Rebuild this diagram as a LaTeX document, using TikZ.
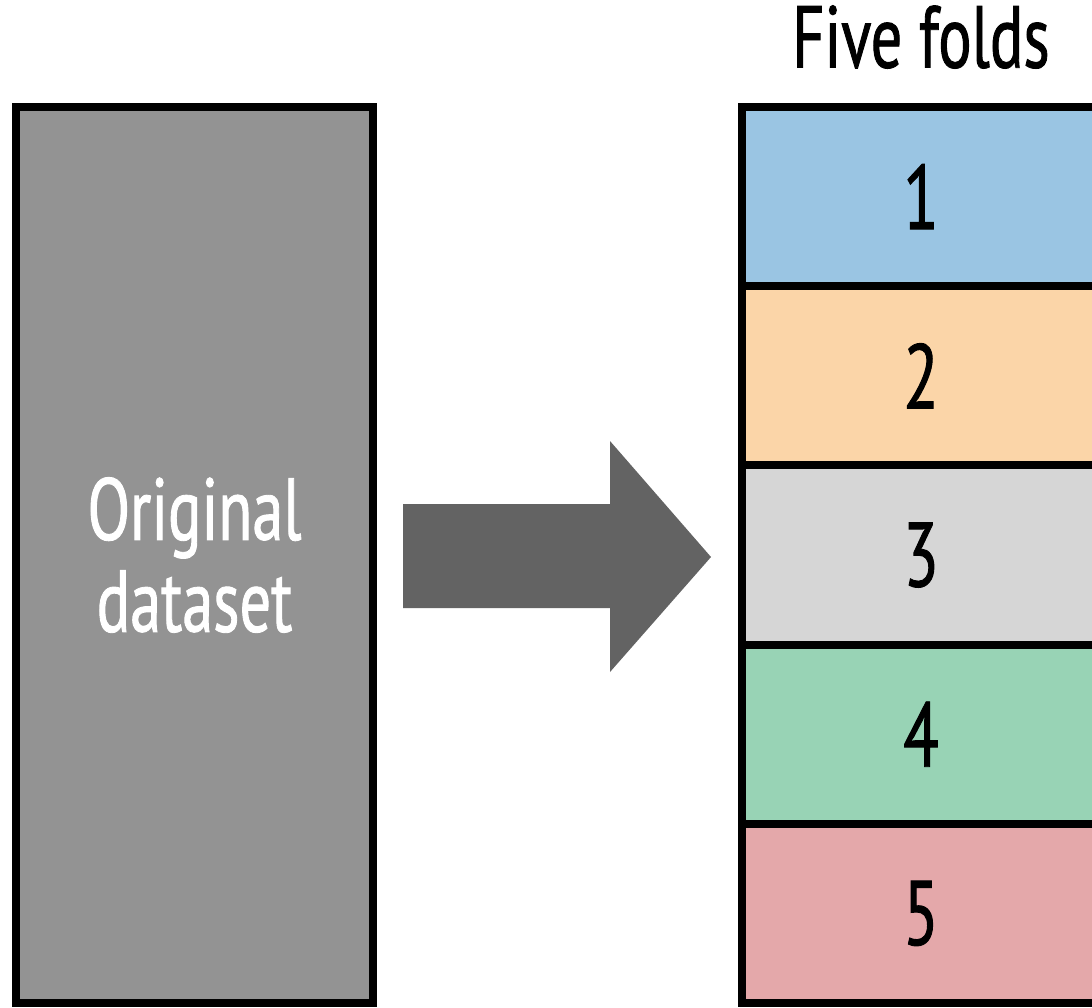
\documentclass[tikz,border=0pt]{standalone}
\usepackage{fontspec}
\setmainfont[FakeStretch=0.71,FakeBold=1.0]{PT Sans}
\usepackage{tikz}
\usepackage{xcolor}
\usetikzlibrary{positioning}

\definecolor{datagray}{HTML}{939393}
\definecolor{arrowgray}{HTML}{636363}
\definecolor{foldone}{HTML}{9AC5E3}
\definecolor{foldtwo}{HTML}{FBD5A8}
\definecolor{foldthree}{HTML}{D6D6D6}
\definecolor{foldfour}{HTML}{98D3B5}
\definecolor{foldfive}{HTML}{E4A8AA}

\tikzset{
  box/.style={draw=black,line width=2.3pt,inner sep=0pt,outer sep=0pt,minimum width=3.58cm},
  fold/.style={box,minimum height=1.792cm,font=\fontsize{26}{26}\selectfont}
}

\begin{document}
\begin{tikzpicture}
  \useasboundingbox (0,0) rectangle (10.92,-10.07);
  \clip (0,0) rectangle (10.92,-10.07);
  % original data
  \node[box,fill=datagray,minimum width=3.57cm,minimum height=8.96cm,text=white,
        align=center,font=\fontsize{25}{25}\selectfont] (data) at (1.945,-5.55)
        {Original\\[0.04cm]dataset};
  % split arrow
  \coordinate (tail) at (4.03,-5.56);
  \coordinate (tip) at (7.11,-5.57);
  \fill[arrowgray] (tail) ++(0,0.52) -- ++(2.07,0) -- (6.10,-4.41) -- (tip)
    -- (6.10,-6.72) -- (6.10,-6.08) -- (tail |- 0,-6.08) -- cycle;
  % the folds
  \node[fold,fill=foldone] (f1) at (9.21,-1.966) {1};
  \node[fold,fill=foldtwo,below=0pt of f1] (f2) {2};
  \node[fold,fill=foldthree,below=0pt of f2] (f3) {3};
  \node[fold,fill=foldfour,below=0pt of f3] (f4) {4};
  \node[fold,fill=foldfive,below=0pt of f4] (f5) {5};
  \node[above=0.26cm of f1,font=\fontsize{25}{25}\selectfont] (title) {Five folds};
\end{tikzpicture}
\end{document}
